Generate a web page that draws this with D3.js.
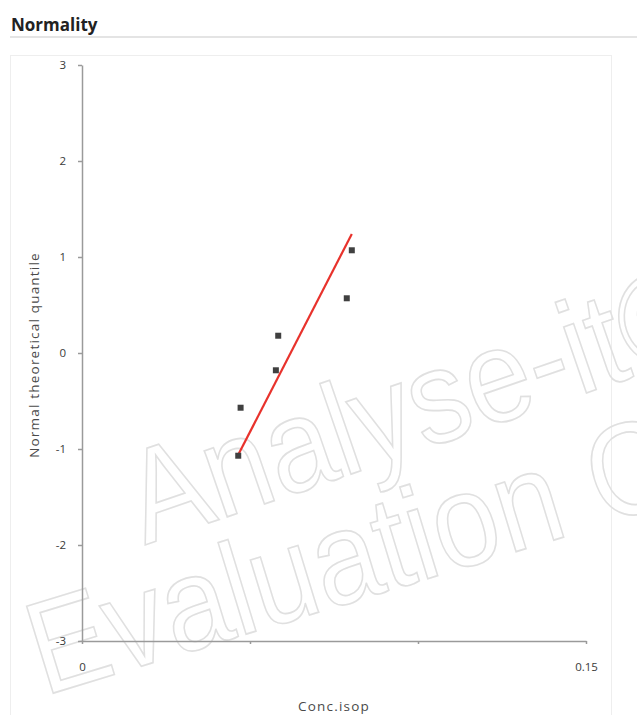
<!DOCTYPE html>
<html>
  <head>
    <meta charset="utf-8" />
    <title>Normality</title>
    <script src="https://cdnjs.cloudflare.com/ajax/libs/d3/7.8.5/d3.min.js"></script>
    <style>
      html, body { margin: 0; padding: 0; background: #fff; }
      svg { display: block; }
      .axis path, .axis line { stroke: #9a9a9a; stroke-width: 1.5; }
      .axis text { font-family: "Open Sans", sans-serif; font-size: 11.5px; fill: #3a3a3a; }
    </style>
  </head>
  <body>
    <svg width="637" height="715"></svg>
  </body>

  <script>
    // data
    const concIsop = [0.0465, 0.0472, 0.0577, 0.0584, 0.0788, 0.0803];
    const quantiles = [-1.07, -0.57, -0.18, 0.18, 0.57, 1.07];
    const fitX = [0.0465, 0.0803];
    const fitY = [-1.06, 1.24];
    const xTicks = [0, 0.05, 0.1, 0.15];
    const xLabels = ["0", "", "", "0.15"];
    const yTicks = [-3, -2, -1, 0, 1, 2, 3];

    const svg = d3.select("svg");

    // title and rule
    svg.append("text")
      .attr("x", 11)
      .attr("y", 31)
      .style("font-family", "Open Sans, sans-serif")
      .style("font-weight", "bold")
      .style("font-size", "17px")
      .style("fill", "#222")
      .text("Normality");
    svg.append("rect")
      .attr("x", 10).attr("y", 36).attr("width", 627).attr("height", 2)
      .attr("fill", "#e4e4e4");

    // panel
    svg.append("rect")
      .attr("x", 10.5).attr("y", 55.5).attr("width", 601).attr("height", 680)
      .attr("fill", "none")
      .attr("stroke", "#eeeeee");

    // watermark (runs off the right edge, as in the original)
    const wm = svg.append("g")
      .style("font-family", "Liberation Sans, Arial, sans-serif")
      .style("font-size", "118px")
      .attr("fill", "none")
      .attr("stroke", "#e0e0e0")
      .attr("stroke-width", 1.5);
    wm.append("text")
      .attr("transform", "translate(145,545) rotate(-19) scale(1,1.12)")
      .text("Analyse-it©");
    wm.append("text")
      .attr("transform", "translate(44,696) rotate(-17) scale(1,1.12)")
      .text("Evaluation C");

    const x = d3.scaleLinear().domain([0, 0.15]).range([82, 586]);
    const y = d3.scaleLinear().domain([-3, 3]).range([641, 65]);

    const xAxis = d3.axisBottom(x)
      .tickValues(xTicks)
      .tickSize(3)
      .tickSizeOuter(0)
      .tickPadding(19)
      .tickFormat((d, i) => xLabels[i]);
    svg.append("g")
      .attr("class", "axis")
      .attr("transform", "translate(0," + y(-3) + ")")
      .call(xAxis);

    const yAxis = d3.axisLeft(y)
      .tickValues(yTicks)
      .tickSize(4)
      .tickSizeOuter(0)
      .tickPadding(12)
      .tickFormat((d) => String(d));
    svg.append("g")
      .attr("class", "axis")
      .attr("transform", "translate(" + x(0) + ",0)")
      .call(yAxis);

    // axis titles
    svg.append("text")
      .attr("x", 334)
      .attr("y", 711)
      .attr("text-anchor", "middle")
      .style("font-family", "Open Sans, sans-serif")
      .style("font-size", "13.5px")
      .style("letter-spacing", "1.2px")
      .style("fill", "#4a4a4a")
      .text("Conc.isop");
    svg.append("text")
      .attr("transform", "translate(39,355) rotate(-90)")
      .attr("text-anchor", "middle")
      .style("font-family", "Open Sans, sans-serif")
      .style("font-size", "13.5px")
      .style("letter-spacing", "1.2px")
      .style("fill", "#4a4a4a")
      .text("Normal theoretical quantile");

    // fitted line
    const fit = fitX.map((v, i) => [v, fitY[i]]);
    svg.append("path")
      .attr("d", d3.line().x((d) => x(d[0])).y((d) => y(d[1]))(fit))
      .attr("fill", "none")
      .attr("stroke", "#e8322c")
      .attr("stroke-width", 2.2);

    // points
    svg.selectAll("rect.pt")
      .data(concIsop)
      .enter()
      .append("rect")
      .attr("class", "pt")
      .attr("x", (d) => x(d) - 3)
      .attr("y", (d, i) => y(quantiles[i]) - 3)
      .attr("width", 6)
      .attr("height", 6)
      .attr("fill", "#404040");
  </script>
</html>
